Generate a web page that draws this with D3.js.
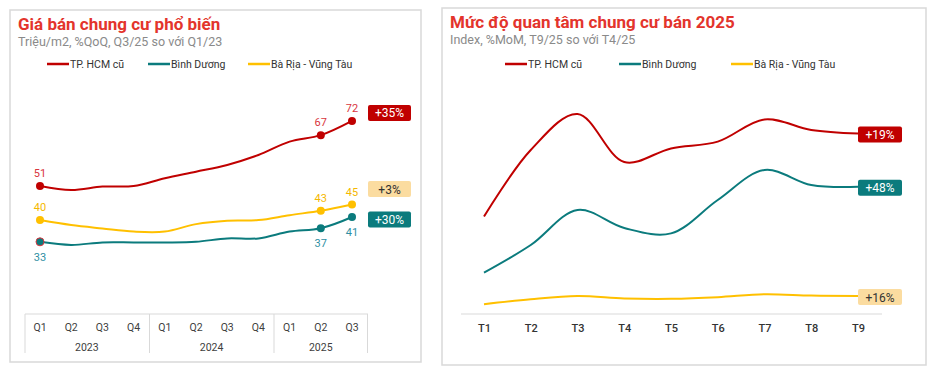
<!DOCTYPE html>
<html>
<head>
<meta charset="utf-8">
<script src="https://cdn.jsdelivr.net/npm/d3@7"></script>
<style>
  body { margin: 0; background: #fff; font-family: Roboto, "Noto Sans", sans-serif; }
  svg { display: block; }
</style>
</head>
<body>
<svg id="chart" width="936" height="376"></svg>
<script>
// left chart data: price, million VND / m2
const quarters = ['Q1', 'Q2', 'Q3', 'Q4', 'Q1', 'Q2', 'Q3', 'Q4', 'Q1', 'Q2', 'Q3'];
const years = ['2023', '2024', '2025'];
const priceHcm = [51, 49.7, 50.8, 51, 53.5, 55.6, 57.8, 61, 65.3, 67.4, 72];
const priceBd = [33, 32, 32.8, 32.8, 32.8, 33, 34.1, 34.1, 36.3, 37.4, 41];
const priceBrvt = [40, 38.4, 37.3, 36.3, 36.3, 38.7, 39.8, 40, 41.6, 43, 45];
const priceLabelIdx = [0, 9, 10];
const priceChange = ['+35%', '+30%', '+3%'];

// right chart data: interest index 2025
const months = ['T1', 'T2', 'T3', 'T4', 'T5', 'T6', 'T7', 'T8', 'T9'];
const interestHcm = [48.7, 82, 100, 76, 82.8, 86.2, 97.3, 92, 90.2];
const interestBd = [20.7, 34.5, 52, 43, 40.3, 57, 72, 64.5, 63.6];
const interestBrvt = [4.9, 7.4, 9, 7.8, 7.6, 8.4, 9.9, 9.2, 9.0];
const interestChange = ['+19%', '+48%', '+16%'];

const seriesNames = ['TP. HCM cũ', 'Bình Dương', 'Bà Rịa - Vũng Tàu'];
const colors = ['#c00000', '#0b7b7d', '#ffc000'];
const labelColors = ['#d9363e', '#2f8fa3', '#f5b800'];
const badgeFill = ['#c00000', '#0b7b7d', '#fbdca0'];
const badgeText = ['#fff', '#fff', '#333'];

const svg = d3.select('#chart');

function panel(x0, y0, w, h, title, subtitle, legendX) {
  const g = svg.append('g');
  g.append('rect')
    .attr('x', x0).attr('y', y0).attr('width', w).attr('height', h)
    .attr('fill', '#fff').attr('stroke', '#d9d9d9').attr('stroke-width', 1.5);
  g.append('text')
    .attr('x', x0 + 8).attr('y', y0 + 20)
    .style('font-size', '17px').style('font-weight', 'bold')
    .attr('fill', '#e3342c')
    .text(title);
  g.append('text')
    .attr('x', x0 + 8).attr('y', y0 + 36)
    .style('font-size', '12.5px')
    .attr('fill', '#8a8a8a')
    .text(subtitle);
  // legend
  seriesNames.forEach((name, i) => {
    g.append('line')
      .attr('x1', legendX[i]).attr('x2', legendX[i] + 22)
      .attr('y1', 64).attr('y2', 64)
      .attr('stroke', colors[i]).attr('stroke-width', 2.5);
    g.append('text')
      .attr('x', legendX[i] + 23).attr('y', 68)
      .style('font-size', '10.5px').attr('fill', '#333')
      .text(name);
  });
  return g;
}

function badge(g, x, yc, w, txt, i) {
  g.append('rect')
    .attr('x', x).attr('y', yc - 8).attr('width', w).attr('height', 16)
    .attr('rx', 2).attr('fill', badgeFill[i]);
  g.append('text')
    .attr('x', x + w / 2).attr('y', yc + 4.5)
    .attr('text-anchor', 'middle')
    .style('font-size', '12px').attr('fill', badgeText[i])
    .text(txt);
}

// ---------- left chart ----------
const left = panel(10, 10, 411, 352, 'Giá bán chung cư phổ biến',
  'Triệu/m2, %QoQ, Q3/25 so với Q1/23', [47, 148, 248]);

const xL = d3.scalePoint().domain(d3.range(quarters.length)).range([40, 352]);
const yL = d3.scaleLinear().domain([0, 80]).range([344.1, 96.1]);
const lineL = d3.line()
  .x((d, i) => xL(i)).y(d => yL(d))
  .curve(d3.curveCatmullRom.alpha(0.5));

const priceSeries = [priceHcm, priceBd, priceBrvt];
// draw yellow first, then teal, then red on top
[2, 1, 0].forEach(s => {
  const data = priceSeries[s];
  left.append('path')
    .datum(data)
    .attr('d', lineL)
    .attr('fill', 'none')
    .attr('stroke', colors[s]).attr('stroke-width', 2);
  left.selectAll(null)
    .data(priceLabelIdx)
    .enter()
    .append('circle')
    .attr('cx', i => xL(i)).attr('cy', i => yL(data[i]))
    .attr('r', 4)
    .attr('fill', colors[s])
    .attr('stroke', (i) => (s === 1 && i === 0) ? '#d9363e' : 'none');
  left.selectAll(null)
    .data(priceLabelIdx)
    .enter()
    .append('text')
    .attr('x', i => xL(i))
    .attr('y', i => s === 1 ? yL(data[i]) + 19 : yL(data[i]) - 9)
    .attr('text-anchor', 'middle')
    .style('font-size', '11px')
    .attr('fill', labelColors[s])
    .text(i => Math.round(data[i]));
});

badge(left, 368, yL(priceHcm[10]) - 8, 43, priceChange[0], 0);
badge(left, 368, 189, 43, priceChange[2], 2);
badge(left, 368, 219.5, 43, priceChange[1], 1);

// category axis with quarter / year groups
const axisTop = 314, axisBottom = 353;
left.append('line')
  .attr('x1', 25).attr('x2', 368).attr('y1', axisTop).attr('y2', axisTop)
  .attr('stroke', '#d9d9d9');
[25, 149.5, 274, 367.5].forEach(x => {
  left.append('line')
    .attr('x1', x).attr('x2', x).attr('y1', axisTop).attr('y2', axisBottom)
    .attr('stroke', '#d9d9d9');
});
left.selectAll('.qlab')
  .data(quarters)
  .enter()
  .append('text')
  .attr('class', 'qlab')
  .attr('x', (d, i) => xL(i)).attr('y', 331)
  .attr('text-anchor', 'middle')
  .style('font-size', '10.5px').attr('fill', '#404040')
  .text(d => d);
const yearCenters = [[0, 3], [4, 7], [8, 10]];
left.selectAll('.ylab')
  .data(years)
  .enter()
  .append('text')
  .attr('class', 'ylab')
  .attr('x', (d, i) => i === 2 ? (274 + 367.5) / 2 : (xL(yearCenters[i][0]) + xL(yearCenters[i][1])) / 2)
  .attr('y', 351)
  .attr('text-anchor', 'middle')
  .style('font-size', '10.5px').attr('fill', '#404040')
  .text(d => d);

// ---------- right chart ----------
const right = panel(442, 8, 484, 357, 'Mức độ quan tâm chung cư bán 2025',
  'Index, %MoM, T9/25 so với T4/25', [505, 619, 731]);

const xR = d3.scalePoint().domain(months).range([484, 858]);
const yR = d3.scaleLinear().domain([0, 130]).range([314, 54]);
const lineR = d3.line()
  .x((d, i) => xR(months[i])).y(d => yR(d))
  .curve(d3.curveCatmullRom.alpha(0.5));

const interestSeries = [interestHcm, interestBd, interestBrvt];
[2, 1, 0].forEach(s => {
  right.append('path')
    .datum(interestSeries[s])
    .attr('d', lineR)
    .attr('fill', 'none')
    .attr('stroke', colors[s]).attr('stroke-width', 2);
});
interestSeries.forEach((data, s) => {
  badge(right, 858, yR(data[data.length - 1]) + 1, 44, interestChange[s], s);
});

const xAxisR = d3.axisBottom(xR).tickSize(0).tickPadding(10);
const gx = right.append('g')
  .attr('transform', `translate(0, 314)`)
  .call(xAxisR);
gx.select('.domain')
  .attr('d', 'M461,0H882')
  .attr('stroke', '#d9d9d9');
gx.selectAll('text')
  .style('font-size', '11px')
  .style('font-family', 'Roboto, sans-serif')
  .style('font-weight', '500')
  .attr('fill', '#333');
</script>
</body>
</html>
